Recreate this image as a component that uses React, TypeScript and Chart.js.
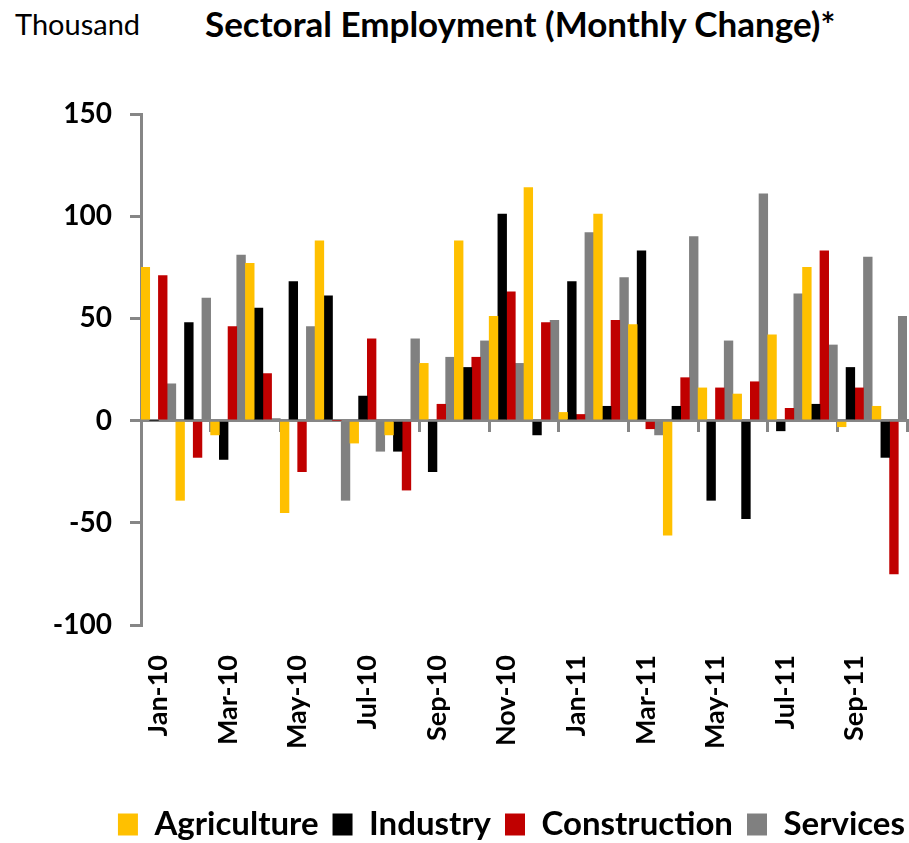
import React, { useEffect, useRef } from "react";
import { Chart, registerables } from "chart.js";

Chart.register(...registerables);

const months = [
  "Jan-10", "Feb-10", "Mar-10", "Apr-10", "May-10", "Jun-10", "Jul-10", "Aug-10",
  "Sep-10", "Oct-10", "Nov-10", "Dec-10", "Jan-11", "Feb-11", "Mar-11", "Apr-11",
  "May-11", "Jun-11", "Jul-11", "Aug-11", "Sep-11", "Oct-11",
];
const agriculture = [75, -39, -7, 77, -45, 88, -11, -7, 28, 88, 51, 114, 4, 101, 47, -56, 16, 13, 42, 75, -3, 7];
const industry = [0, 48, -19, 55, 68, 61, 12, -15, -25, 26, 101, -7, 68, 7, 83, 7, -39, -48, -5, 8, 26, -18];
const construction = [71, -18, 46, 23, -25, 0, 40, -34, 8, 31, 63, 48, 3, 49, -4, 21, 16, 19, 6, 83, 16, -75];
const services = [18, 60, 81, 1, 46, -39, -15, 40, 31, 39, 28, 49, 92, 70, -7, 90, 39, 111, 62, 37, 80, 51];

const seriesNames = ["Agriculture", "Industry", "Construction", "Services"];
const seriesColors = ["#FFC000", "#000000", "#C00000", "#808080"];
const yMin = -100;
const yMax = 150;
const yStep = 50;

const titleText = "Sectoral Employment (Monthly Change)*";
const unitText = "Thousand";

const AXIS = "#868686";
const FONT = "Lato, 'Open Sans', sans-serif";

export default function App() {
  const ref = useRef<HTMLCanvasElement>(null);

  useEffect(() => {
    const canvas = ref.current;
    if (!canvas) return;
    const seriesData = [agriculture, industry, construction, services];
    const chart = new Chart(canvas, {
      type: "bar",
      data: {
        labels: months,
        datasets: seriesNames.map((name, i) => ({
          label: name,
          data: seriesData[i],
          backgroundColor: seriesColors[i],
          borderColor: seriesColors[i],
          borderWidth: 0,
          barPercentage: 1,
          categoryPercentage: 1,
          xAxisID: "x",
          yAxisID: "y",
        })),
      },
      options: {
        animation: false,
        responsive: false,
        maintainAspectRatio: false,
        layout: { padding: { top: 114, right: -10, left: 0, bottom: -8 } },
        scales: {
          x: {
            type: "category",
            position: "bottom",
            offset: true,
            grid: { display: false, drawTicks: false },
            border: { display: false },
            ticks: {
              autoSkip: false,
              maxRotation: 90,
              minRotation: 90,
              padding: 30,
              color: "#000",
              font: { family: FONT, size: 27, weight: "bold" },
              callback: (_v: any, i: number) => (i % 2 === 0 ? months[i] : ""),
            },
            afterFit: (s: any) => {
              s.height = 169;
              s.paddingLeft = 0;
              s.paddingRight = 2;
            },
          },
          x2: {
            type: "category",
            position: { y: 0 } as any,
            offset: true,
            ticks: { display: false },
            grid: {
              offset: true,
              drawOnChartArea: false,
              drawTicks: true,
              tickLength: 10,
              lineWidth: 3,
              color: (ctx: any) =>
                ctx.index === undefined || ctx.index % 2 === 0 ? AXIS : "rgba(0,0,0,0)",
            },
            border: { color: AXIS, width: 3 },
            afterFit: (s: any) => {
              s.paddingLeft = 0;
              s.paddingRight = 0;
            },
          },
          y: {
            min: yMin,
            max: yMax,
            ticks: {
              stepSize: yStep,
              padding: 18,
              color: "#000",
              font: { family: FONT, size: 28, weight: "bold" },
            },
            grid: {
              drawOnChartArea: false,
              drawTicks: true,
              tickLength: 11,
              lineWidth: 3,
              color: AXIS,
            },
            border: { color: AXIS, width: 3 },
            afterFit: (s: any) => {
              s.width = 141;
            },
          },
        },
        plugins: {
          legend: {
            position: "bottom",
            align: "end",
            labels: {
              boxWidth: 20,
              boxHeight: 22,
              padding: 14,
              color: "#000",
              font: { family: FONT, size: 33, weight: "bold" },
            },
          },
          tooltip: { enabled: false },
          title: { display: false },
        },
      } as any,
    });
    return () => chart.destroy();
  }, []);

  return (
    <div style={{ position: "absolute", left: 0, top: 0, width: 909, height: 843, background: "#fff", overflow: "hidden" }}>
      <div
        style={{
          position: "absolute",
          left: 15,
          top: 9,
          fontFamily: FONT,
          fontSize: 29,
          lineHeight: 1,
          color: "#000",
          whiteSpace: "nowrap",
        }}
      >
        {unitText}
      </div>
      <div
        style={{
          position: "absolute",
          left: 205,
          top: 6,
          fontFamily: FONT,
          fontSize: 35,
          fontWeight: "bold",
          lineHeight: 1,
          color: "#000",
          whiteSpace: "nowrap",
        }}
      >
        {titleText}
      </div>
      <canvas ref={ref} width={909} height={843} style={{ position: "absolute", left: 0, top: 0, width: 909, height: 843 }} />
    </div>
  );
}
